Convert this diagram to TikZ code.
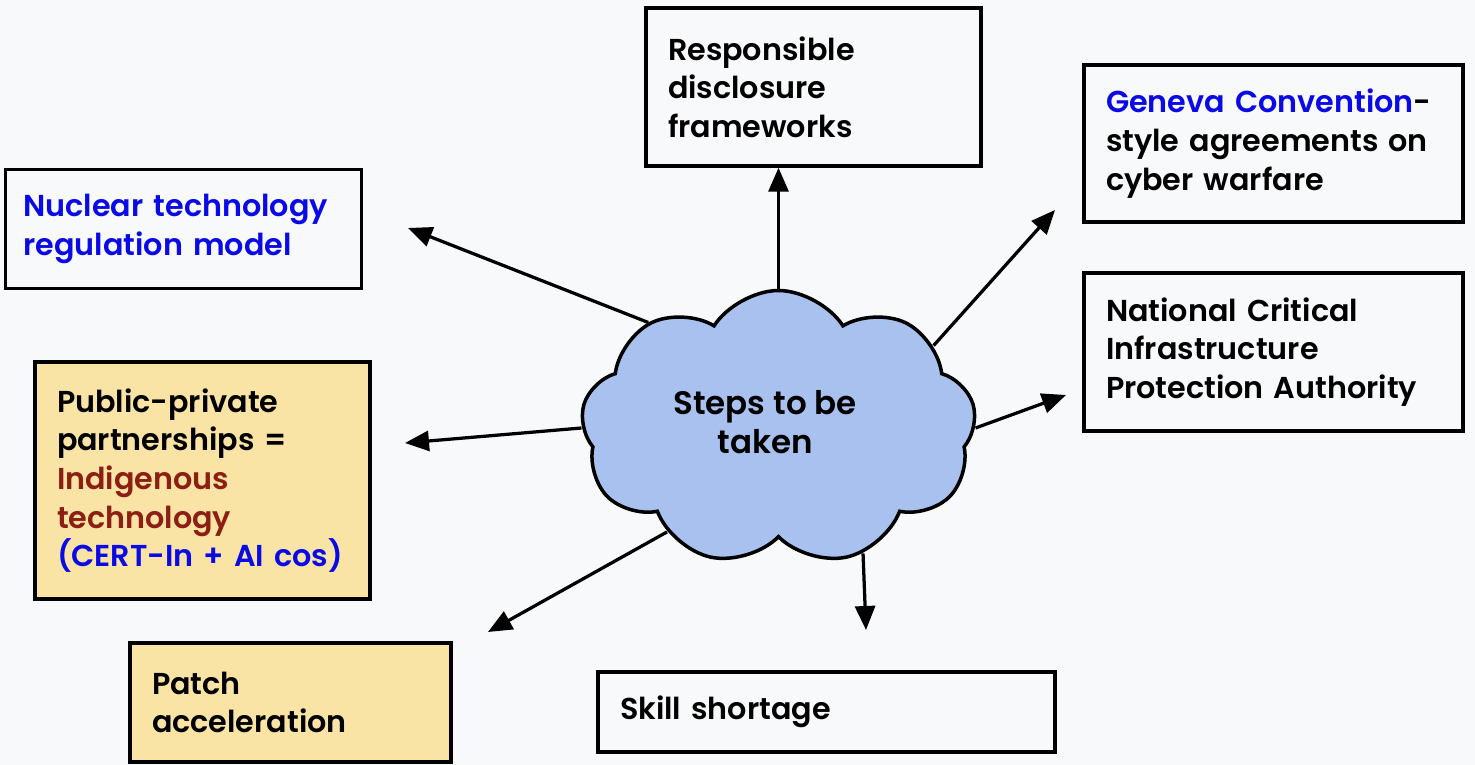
\documentclass[tikz,border=0pt]{standalone}
\usepackage{fontspec}
\setmainfont{Poppins}[BoldFont={Poppins SemiBold}]
\usetikzlibrary{shapes.symbols,arrows.meta}
\definecolor{bgcol}{RGB}{248,249,251}
\definecolor{cloudcol}{RGB}{169,193,238}
\definecolor{notecol}{RGB}{249,227,165}
\definecolor{linkblue}{RGB}{10,10,230}
\definecolor{darkred}{RGB}{140,30,20}
\hyphenpenalty=10000
\exhyphenpenalty=10000
\begin{document}
\begin{tikzpicture}[font=\fontsize{17.2}{22}\selectfont\bfseries,
  box/.style={draw,line width=0.07cm,rectangle,align=left,inner xsep=0.4cm,anchor=center},
  arr/.style={-{Triangle[length=0.48cm,width=0.4cm]},line width=0.065cm}]
\fill[bgcol] (0,0) rectangle (29.5cm,15.3cm);
\useasboundingbox (0,0) rectangle (29.5cm,15.3cm);

\node[cloud,cloud puffs=9,cloud puff arc=115,aspect=1.45,draw,line width=0.07cm,fill=cloudcol,
  minimum width=7.9cm,minimum height=5.5cm] (steps) at (15.57cm,6.74cm) {};
\node[align=center,font=\fontsize{18.5}{22}\selectfont\bfseries] (stepstext) at (15.30cm,6.86cm) {Steps to be\\taken};

\node[box,minimum width=6.7cm,minimum height=3.16cm,text width=5.82cm] (resp) at (16.27cm,13.56cm)
  {Responsible\\disclosure\\frameworks};
\node[box,minimum width=7.58cm,minimum height=3.14cm,text width=6.7cm] (geneva) at (25.47cm,12.43cm)
  {\textcolor{linkblue}{Geneva Convention}-\\style agreements on\\cyber warfare};
\node[box,minimum width=7.58cm,minimum height=3.16cm,text width=6.7cm] (natl) at (25.47cm,8.26cm)
  {National Critical\\Infrastructure\\Protection Authority};
\node[box,minimum width=7.02cm,minimum height=2.38cm,text width=6.4cm,inner xsep=0.36cm,text=linkblue] (nuclear) at (3.67cm,10.72cm)
  {Nuclear technology\\regulation model};
\node[box,fill=notecol,minimum width=6.7cm,minimum height=4.74cm,text width=5.82cm] (public) at (4.05cm,5.69cm)
  {Public-private\\partnerships =\\\textcolor{darkred}{Indigenous}\\\textcolor{darkred}{technology}\\\textcolor{linkblue}{(CERT-In + AI cos)}};
\node[box,fill=notecol,minimum width=6.42cm,minimum height=2.38cm,text width=5.54cm] (patch) at (5.81cm,1.25cm)
  {Patch\\acceleration};
\node[box,minimum width=9.14cm,minimum height=1.6cm,text width=8.26cm] (skill) at (16.53cm,1.06cm)
  {Skill shortage};

% free ends of the arrows
\coordinate (gtip) at (21.10cm,11.10cm);
\coordinate (ntip) at (21.32cm,7.40cm);
\coordinate (ctip) at (8.16cm,10.74cm);
\coordinate (ptip) at (8.10cm,6.44cm);
\coordinate (atip) at (9.76cm,2.66cm);
\coordinate (stip) at (17.32cm,2.70cm);

\draw[arr] (steps.90) -- (steps.90 |- resp.south);
\draw[arr] (steps.28) -- (gtip);
\draw[arr] (steps.0) -- (ntip);
\draw[arr] (steps.141) -- (ctip);
\draw[arr] (steps.180) -- (ptip);
\draw[arr] (steps.223) -- (atip);
\draw[arr] (steps.304) -- (stip);
\end{tikzpicture}
\end{document}
